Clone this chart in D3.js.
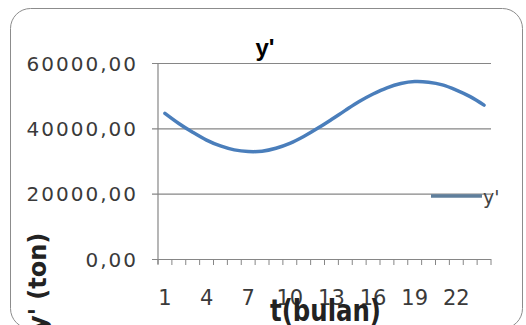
<!DOCTYPE html>
<html>
<head>
<meta charset="utf-8">
<script src="https://cdnjs.cloudflare.com/ajax/libs/d3/7.8.5/d3.min.js"></script>
<style>
  body { margin: 0; background: #fff; }
  svg { display: block; }
</style>
</head>
<body>
<div id="chart"></div>
<script>
var w = 526,
  h = 325;

// data
var months = d3.range(1, 25);
var yValues = [44600, 41500, 38800, 36400, 34600, 33400, 32900, 33000, 33900, 35400,
  37500, 40000, 42700, 45500, 48200, 50500, 52400, 53700, 54300, 54100,
  53300, 51700, 49700, 47100];
var yTicks = [0, 20000, 40000, 60000];
var xTickLabels = [1, 4, 7, 10, 13, 16, 19, 22];
var title = "y'";
var xTitle = "t(bulan)";
var yTitle = "y' (ton)";
var seriesName = "y'";

var plot = {left: 158, right: 491, top: 63, bottom: 259};

draw();

function fmt(v) {
  return d3.format(".2f")(v).replace(".", ",");
}

function draw() {
  var svg = d3.select("#chart").append("svg").attr("width", w).attr("height", h);

  // chart frame, bottom corners just touch the edge
  svg.append("rect").attr("x", 10.5).attr("y", 8.5).attr("width", 512).attr("height", 320)
    .attr("rx", 20).attr("fill", "#fff").attr("stroke", "#8c8c8c").attr("stroke-width", 1);

  var x = d3.scaleBand().domain(months).range([plot.left, plot.right]);
  var y = d3.scaleLinear().domain([0, 60000]).range([plot.bottom, plot.top]);

  // gridlines + y axis
  var yAxis = d3.axisLeft(y).tickValues(yTicks).tickFormat(fmt)
    .tickSize(-(plot.right - plot.left)).tickPadding(20);
  var gy = svg.append("g").attr("transform", "translate(" + plot.left + ",0)").call(yAxis);
  gy.select(".domain").remove();
  gy.selectAll(".tick line").attr("stroke", "#868686").attr("x1", -6).attr("stroke-width", 1.2);
  gy.selectAll(".tick text").attr("fill", "#3a3a3a").style("font-family", "DejaVu Sans")
    .style("font-size", "20px").style("letter-spacing", "2px").attr("dy", "0.35em");

  svg.append("line").attr("x1", plot.left).attr("x2", plot.left)
    .attr("y1", plot.top).attr("y2", plot.bottom + 5).attr("stroke", "#868686").attr("stroke-width", 1.2);

  // x axis: ticks between categories
  var gx = svg.append("g").attr("transform", "translate(0," + plot.bottom + ")");
  gx.selectAll("line.tk").data(d3.range(0, 25)).enter().append("line")
    .attr("x1", function (d) { return plot.left + d * x.step(); })
    .attr("x2", function (d) { return plot.left + d * x.step(); })
    .attr("y1", 0).attr("y2", 6).attr("stroke", "#868686").attr("stroke-width", 1);
  gx.selectAll("text").data(xTickLabels).enter().append("text")
    .attr("x", function (d) { return x(d) + x.bandwidth() / 2; })
    .attr("y", 46).attr("text-anchor", "middle").attr("fill", "#3a3a3a")
    .style("font-family", "DejaVu Sans").style("font-size", "21px")
    .text(function (d) { return d; });

  // series
  var line = d3.line()
    .x(function (d, i) { return x(months[i]) + x.bandwidth() / 2; })
    .y(function (d) { return y(d); })
    .curve(d3.curveCatmullRom);
  svg.append("path").datum(yValues).attr("d", line).attr("fill", "none")
    .attr("stroke", "#4a7ebb").attr("stroke-width", 3.5).attr("stroke-linecap", "round");

  // title
  svg.append("text").attr("x", 265).attr("y", 56).attr("text-anchor", "middle")
    .style("font-family", "Liberation Sans").style("font-weight", "bold").style("font-size", "24px")
    .attr("fill", "#000").text(title);

  // legend
  svg.append("line").attr("x1", 431).attr("x2", 482).attr("y1", 196).attr("y2", 196)
    .attr("stroke", "#5f7f9c").attr("stroke-width", 3.5);
  svg.append("text").attr("x", 483).attr("y", 204).attr("fill", "#444")
    .style("font-family", "DejaVu Sans").style("font-size", "19px").text(seriesName);

  // axis titles
  svg.append("text").attr("x", 270).attr("y", 321).attr("fill", "#222")
    .attr("textLength", 111).attr("lengthAdjust", "spacingAndGlyphs")
    .style("font-family", "DejaVu Sans").style("font-weight", "bold").style("font-size", "30px")
    .text(xTitle);
  svg.append("text").attr("transform", "translate(46,331) rotate(-90)").attr("fill", "#222")
    .style("font-family", "DejaVu Sans").style("font-weight", "bold").style("font-size", "24px")
    .text(yTitle);
}
</script>
</body>
</html>
